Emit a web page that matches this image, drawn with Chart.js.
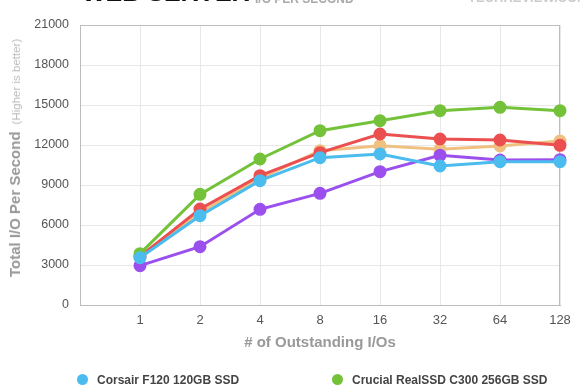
<!DOCTYPE html>
<html>
<head>
<meta charset="utf-8">
<script src="https://cdn.jsdelivr.net/npm/chart.js@4/dist/chart.umd.min.js"></script>
<style>
  html, body { margin: 0; padding: 0; background: #fff; }
  #wrap { position: relative; width: 580px; height: 390px; overflow: hidden; font-family: "Liberation Sans", Arial, sans-serif; }
  #chart { position: absolute; left: 0; top: 0; }
  .title { position: absolute; left: 82px; top: -22px; font-size: 25px; font-weight: bold; color: #111; white-space: nowrap; }
  .subtitle { position: absolute; left: 255px; top: -8px; font-size: 12px; font-weight: bold; color: #aaa; white-space: nowrap; }
  .logo { position: absolute; left: 468px; top: -10px; font-size: 13px; font-weight: bold; color: #ccc; white-space: nowrap; }
  .ytitle { position: absolute; left: 15px; top: 158px; transform: translate(-50%, -50%) rotate(-90deg); white-space: nowrap; color: #999; }
  .ytitle b { font-size: 15px; }
  .ytitle span { font-size: 11.5px; color: #bbb; margin-left: 7px; }
  .xtitle { position: absolute; left: 320px; top: 341px; transform: translate(-50%, -50%); font-size: 15px; font-weight: bold; color: #999; white-space: nowrap; }
  .legend { position: absolute; top: 373px; font-size: 12px; font-weight: bold; color: #444; white-space: nowrap; }
  .legend i { display: inline-block; width: 11px; height: 11px; border-radius: 50%; vertical-align: -1px; margin-right: 9px; }
</style>
</head>
<body>
<div id="wrap">
  <canvas id="chart" width="580" height="390"></canvas>
  <div class="title">WEB SERVER</div>
  <div class="subtitle">I/O PER SECOND</div>
  <div class="logo">TECHREVIEW.COM</div>
  <div class="ytitle"><b>Total I/O Per Second</b><span>(Higher is better)</span></div>
  <div class="xtitle"># of Outstanding I/Os</div>
  <div id="legend"></div>
</div>
<script>
(function () {
  "use strict";

  // leading empty slot keeps the gap between the y axis and "1"
  var queueDepths = ["", "1", "2", "4", "8", "16", "32", "64", "128"];
  var yTicks = [0, 3000, 6000, 9000, 12000, 15000, 18000, 21000];

  var corsairF120 = [null, 3550, 6700, 9325, 11050, 11325, 10425, 10750, 10750];
  var crucialC300 = [null, 3850, 8300, 10950, 13075, 13825, 14575, 14825, 14575];
  var purpleDrive = [null, 2950, 4375, 7175, 8375, 10000, 11225, 10875, 10900];
  var redDrive = [null, 3650, 7200, 9700, 11425, 12825, 12450, 12375, 11975];
  var orangeDrive = [null, 3600, 6950, 9500, 11575, 11950, 11675, 11925, 12300];

  var seriesNames = ["Corsair F120 120GB SSD", "Crucial RealSSD C300 256GB SSD", "", "", ""];

  var colors = {
    blue: "#4bbcee",
    green: "#74c23a",
    purple: "#9b50ee",
    red: "#eb4f4f",
    orange: "#f0c080",
    grid: "#e8e8e8",
    border: "#bdbdbd",
    text: "#555"
  };

  function lineSet(label, data, color) {
    return {
      label: label,
      data: data,
      borderColor: color,
      backgroundColor: color,
      pointBackgroundColor: color,
      pointBorderColor: color,
      borderWidth: 3,
      pointRadius: 5,
      pointHoverRadius: 5,
      tension: 0,
      fill: false
    };
  }

  var datasets = [
    lineSet(seriesNames[0], corsairF120, colors.blue),
    lineSet(seriesNames[1], crucialC300, colors.green),
    lineSet(seriesNames[2], purpleDrive, colors.purple),
    lineSet(seriesNames[3], redDrive, colors.red),
    lineSet(seriesNames[4], orangeDrive, colors.orange)
  ];

  // simple html legend, only the first row fits in the window
  var legendNode = document.getElementById("legend");
  var legendX = [77, 332];
  [0, 1].forEach(function (i) {
    var d = document.createElement("div");
    d.className = "legend";
    d.style.left = legendX[i] + "px";
    d.innerHTML = '<i style="background:' + datasets[i].borderColor + '"></i>' + seriesNames[i];
    legendNode.appendChild(d);
  });

  // grey frame round the plot, under the lines
  var plotBox = {
    id: "plotBox",
    beforeDatasetsDraw: function (chart) {
      var a = chart.chartArea;
      var ctx = chart.ctx;
      ctx.save();
      ctx.strokeStyle = colors.border;
      ctx.lineWidth = 1;
      ctx.strokeRect(a.left + 0.5, a.top + 0.5, a.right - a.left - 1, a.bottom - a.top);
      ctx.restore();
    }
  };

  new Chart(document.getElementById("chart"), {
    type: "line",
    data: { labels: queueDepths, datasets: datasets },
    plugins: [plotBox],
    options: {
      responsive: false,
      animation: false,
      spanGaps: true,
      layout: { padding: { top: 25, right: 20, bottom: 0, left: 0 } },
      plugins: {
        legend: { display: false },
        tooltip: { enabled: false }
      },
      scales: {
        x: {
          grid: { color: colors.grid, drawTicks: false },
          border: { color: colors.border },
          ticks: {
            color: colors.text,
            padding: 8,
            maxRotation: 0,
            autoSkip: false,
            font: { family: "'Liberation Sans', Arial, sans-serif", size: 13 }
          },
          afterFit: function (scale) { scale.height = 85; }
        },
        y: {
          min: 0,
          max: 21000,
          grid: { color: colors.grid, drawTicks: false },
          border: { color: colors.border },
          afterBuildTicks: function (scale) {
            scale.ticks = yTicks.map(function (v) { return { value: v }; });
          },
          ticks: {
            color: colors.text,
            padding: 11,
            callback: function (v) { return String(v); },
            font: { family: "'Liberation Sans', Arial, sans-serif", size: 12.5 }
          },
          afterFit: function (scale) { scale.width = 80; }
        }
      }
    }
  });
})();
</script>
</body>
</html>
